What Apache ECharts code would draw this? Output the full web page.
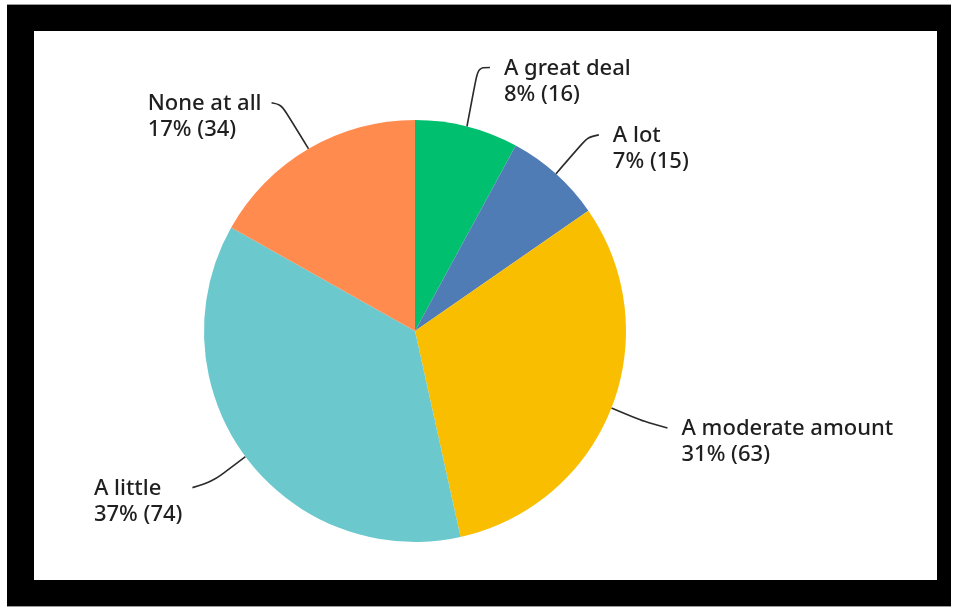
<!DOCTYPE html>
<html>
<head>
<meta charset="utf-8">
<script src="https://cdn.jsdelivr.net/npm/echarts@6/dist/echarts.min.js"></script>
<style>
  html, body { margin: 0; padding: 0; background: #ffffff; }
  #frame { position: absolute; left: 7px; top: 4px; width: 944px; height: 601px; background: #000; border-top: 1px solid #9a9a9a; border-bottom: 1px solid #9a9a9a; }
  #inner { position: absolute; left: 34px; top: 31px; width: 903px; height: 549px; background: #fff; }
  #chart { position: absolute; left: 0; top: 0; width: 954px; height: 608px; }
</style>
</head>
<body>
<div id="frame"></div>
<div id="inner"></div>
<div id="chart"></div>
<script>
// ---- data ----
const categories = ['A great deal', 'A lot', 'A moderate amount', 'A little', 'None at all'];
const counts = [16, 15, 63, 74, 34];
const percents = [8, 7, 31, 37, 17];

// ---- styling / layout ----
const colors = ['#00BF6F', '#507CB6', '#F9BE00', '#6BC8CD', '#FF8B4F'];
const CENTER = [415, 331];
const RADIUS = 211;
const LINE_H = 26;
// leader-line elbow and end offsets relative to the slice anchor point
const lineGeom = [
  { mid: [11, -59], end: [23, -59] },
  { mid: [32, -37], end: [43, -39] },
  { mid: [33, 14], end: [56, 20] },
  { mid: [-33, 25], end: [-53, 31] },
  { mid: [-27, -44], end: [-37, -46] }
];
const GAP_R = 14, GAP_L = 10;

const total = counts.reduce((a, b) => a + b, 0);
function anchorOf(i) {
  let before = 0;
  for (let k = 0; k < i; k++) before += counts[k];
  const ang = (before + counts[i] / 2) / total * 2 * Math.PI;
  return [CENTER[0] + RADIUS * Math.sin(ang), CENTER[1] - RADIUS * Math.cos(ang)];
}

const chart = echarts.init(document.getElementById('chart'));
chart.setOption({
  animation: false,
  backgroundColor: 'transparent',
  series: [{
    type: 'pie',
    center: CENTER,
    radius: RADIUS,
    startAngle: 90,
    clockwise: true,
    avoidLabelOverlap: false,
    data: categories.map((name, i) => ({ name: name, value: counts[i], itemStyle: { color: colors[i] } })),
    label: {
      show: true,
      position: 'outer',
      formatter: p => p.name + '\n' + percents[p.dataIndex] + '% (' + p.value + ')',
      fontFamily: 'Noto Sans',
      fontSize: 22,
      fontWeight: 500,
      lineHeight: LINE_H,
      color: '#1f1f1f'
    },
    labelLine: {
      show: true,
      smooth: 0.35,
      lineStyle: { color: '#2b2b2b', width: 1.6 }
    },
    labelLayout: function (params) {
      const i = params.dataIndex;
      const s = anchorOf(i);
      const g = lineGeom[i];
      const mid = [s[0] + g.mid[0], s[1] + g.mid[1]];
      const end = [s[0] + g.end[0], s[1] + g.end[1]];
      const w = params.labelRect.width;
      const x = g.end[0] > 0 ? end[0] + GAP_R : end[0] - GAP_L - w;
      return {
        x: x,
        y: end[1] - LINE_H / 2 + 1,
        align: 'left',
        verticalAlign: 'top',
        labelLinePoints: [s, mid, end]
      };
    },
    emphasis: { disabled: true }
  }]
});
</script>
</body>
</html>
